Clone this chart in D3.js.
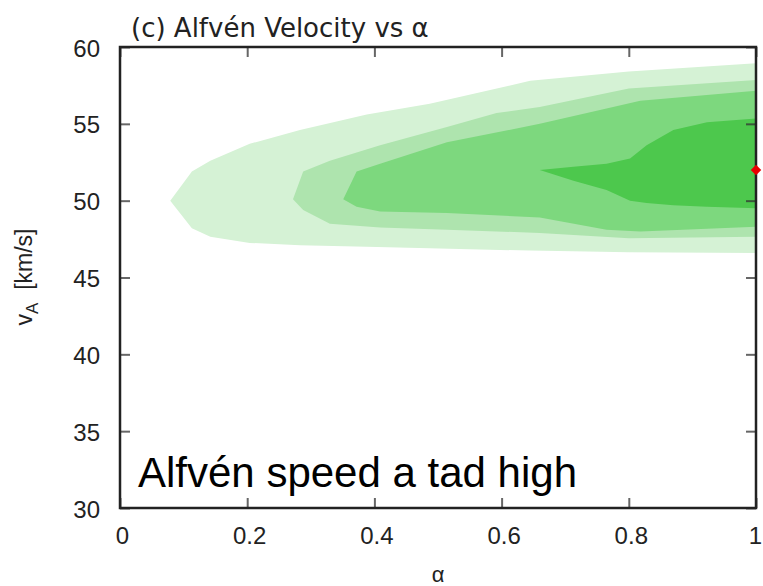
<!DOCTYPE html>
<html>
<head>
<meta charset="utf-8">
<script src="https://cdn.jsdelivr.net/npm/d3@7"></script>
<style>
  body { margin: 0; background: #fff; }
  svg { display: block; }
</style>
</head>
<body>
<div id="chart"></div>
<script>
// contour bands: alpha positions with upper / lower vA edge
var band1Alpha = [0.079, 0.113, 0.142, 0.204, 0.283, 0.388, 0.487, 0.645, 0.80, 1.0];
var band1Upper = [50.0, 51.9, 52.6, 53.7, 54.6, 55.6, 56.3, 57.8, 58.4, 58.95];
var band1Lower = [50.0, 48.2, 47.65, 47.25, 47.1, 47.0, 46.9, 46.75, 46.65, 46.6];

var band2Alpha = [0.272, 0.288, 0.330, 0.409, 0.514, 0.592, 0.660, 0.80, 1.0];
var band2Upper = [50.1, 51.9, 52.6, 53.6, 54.8, 55.7, 56.1, 57.3, 57.85];
var band2Lower = [50.1, 49.4, 48.5, 48.25, 48.1, 48.0, 47.9, 47.55, 47.65];

var band3Alpha = [0.351, 0.372, 0.409, 0.514, 0.660, 0.765, 0.818, 1.0];
var band3Upper = [50.1, 51.9, 52.4, 53.8, 55.0, 56.0, 56.5, 57.15];
var band3Lower = [50.1, 49.6, 49.3, 49.2, 48.9, 48.1, 48.0, 48.3];

var band4Alpha = [0.660, 0.713, 0.765, 0.802, 0.828, 0.870, 0.923, 1.0];
var band4Upper = [52.0, 52.2, 52.4, 52.75, 53.6, 54.6, 55.1, 55.35];
var band4Lower = [52.0, 51.3, 50.7, 50.0, 49.85, 49.7, 49.6, 49.5];

var bandColors = ["#d5f2d5", "#aee4ae", "#7dd87e", "#4dc84d"];

var bestPoint = [1.0, 52.0];

var xTicks = [0, 0.2, 0.4, 0.6, 0.8, 1];
var yTicks = [30, 35, 40, 45, 50, 55, 60];

var width = 763, height = 586;
var margin = {top: 47, right: 7, bottom: 78, left: 120};

var svg = d3.select("#chart")
  .append("svg")
    .attr("width", width)
    .attr("height", height);

var xScale = d3.scaleLinear()
  .domain([0, 1])
  .range([margin.left, width - margin.right]);

var yScale = d3.scaleLinear()
  .domain([30, 60])
  .range([height - margin.bottom, margin.top]);

function zipBand(a, hi, lo) {
  return a.map(function(v, i) { return {a: v, hi: hi[i], lo: lo[i]}; });
}

var bands = [
  zipBand(band1Alpha, band1Upper, band1Lower),
  zipBand(band2Alpha, band2Upper, band2Lower),
  zipBand(band3Alpha, band3Upper, band3Lower),
  zipBand(band4Alpha, band4Upper, band4Lower)
];

var area = d3.area()
  .x(function(d) { return xScale(d.a); })
  .y0(function(d) { return yScale(d.lo); })
  .y1(function(d) { return yScale(d.hi); });

svg.append("g")
  .selectAll("path")
  .data(bands)
  .enter()
  .append("path")
    .attr("d", area)
    .attr("fill", function(d, i) { return bandColors[i]; });

// axes, ticks pointing inward
var tickFont = "'Liberation Sans', Arial, sans-serif";

var xAxis = svg.append("g")
  .attr("transform", "translate(0," + yScale(30) + ")")
  .call(d3.axisBottom(xScale).tickValues(xTicks).tickSize(-10).tickSizeOuter(0).tickPadding(19)
    .tickFormat(function(d) { return d === 0 || d === 1 ? d : d3.format(".1f")(d); }));

var yAxis = svg.append("g")
  .attr("transform", "translate(" + xScale(0) + ",0)")
  .call(d3.axisLeft(yScale).tickValues(yTicks).tickSize(-10).tickSizeOuter(0).tickPadding(20));

svg.append("g")
  .attr("transform", "translate(0," + yScale(60) + ")")
  .call(d3.axisTop(xScale).tickValues(xTicks).tickSize(-10).tickSizeOuter(0).tickFormat(""));

svg.append("g")
  .attr("transform", "translate(" + xScale(1) + ",0)")
  .call(d3.axisRight(yScale).tickValues(yTicks).tickSize(-10).tickSizeOuter(0).tickFormat(""));

svg.selectAll(".domain").remove();
svg.selectAll(".tick line")
  .attr("stroke", "#333")
  .attr("stroke-opacity", 0.75)
  .attr("stroke-width", 2);
svg.selectAll(".tick text")
  .attr("fill", "#222")
  .style("font-family", tickFont)
  .style("font-size", "24px");
xAxis.selectAll(".tick text").attr("dx", function(d) { return d === 1 ? -1 : 2; });
yAxis.selectAll(".tick text").attr("dy", "0.38em");

// frame
svg.append("rect")
  .attr("x", xScale(0))
  .attr("y", yScale(60))
  .attr("width", xScale(1) - xScale(0))
  .attr("height", yScale(30) - yScale(60))
  .attr("fill", "none")
  .attr("stroke", "#222")
  .attr("stroke-width", 2.5);

// best fit marker
svg.append("path")
  .attr("d", d3.symbol().type(d3.symbolSquare).size(55))
  .attr("transform", "translate(" + xScale(bestPoint[0]) + "," + yScale(bestPoint[1]) + ") rotate(45)")
  .attr("fill", "#e80000");

// title
svg.append("text")
  .attr("x", 131)
  .attr("y", 37)
  .text("(c) Alfvén Velocity vs α")
  .style("font-family", "'DejaVu Sans', Verdana, sans-serif")
  .style("font-size", "26px")
  .attr("fill", "#222");

// axis labels
svg.append("text")
  .attr("x", 438)
  .attr("y", 582)
  .attr("text-anchor", "middle")
  .text("α")
  .style("font-family", tickFont)
  .style("font-size", "22px")
  .attr("fill", "#222");

var yLabel = svg.append("text")
  .attr("transform", "translate(32,277) rotate(-90)")
  .attr("text-anchor", "middle")
  .style("font-family", tickFont)
  .style("font-size", "23px")
  .attr("fill", "#222");
yLabel.append("tspan").text("v");
yLabel.append("tspan").attr("dy", 6).style("font-size", "17px").text("A");
yLabel.append("tspan").attr("dy", -6).text("  [km/s]").attr("xml:space", "preserve");

// annotation
svg.append("text")
  .attr("x", 138)
  .attr("y", 487)
  .text("Alfvén speed a tad high")
  .style("font-family", tickFont)
  .style("font-size", "42px")
  .attr("fill", "#000");
</script>
</body>
</html>
